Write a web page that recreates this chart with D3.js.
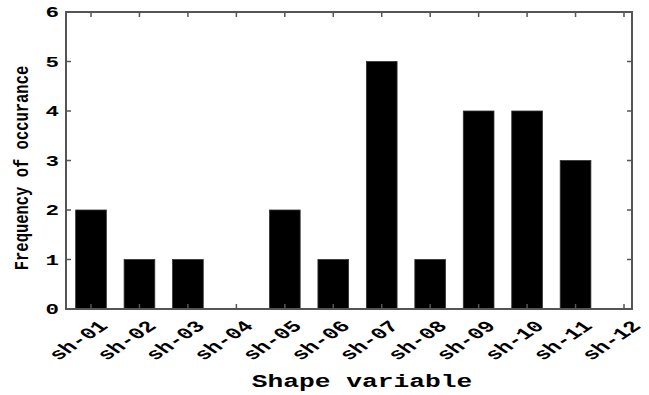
<!DOCTYPE html>
<html>
<head>
<meta charset="utf-8">
<script src="https://cdn.jsdelivr.net/npm/d3@7"></script>
<style>
  body { margin: 0; background: #fff; }
  text { font-family: "Courier New", "Liberation Mono", monospace; font-weight: bold; fill: #000; }
</style>
</head>
<body>
<script>
// chart data
var shapes = ["sh-01", "sh-02", "sh-03", "sh-04", "sh-05", "sh-06",
              "sh-07", "sh-08", "sh-09", "sh-10", "sh-11", "sh-12"];
var counts = [2, 1, 1, 0, 2, 1, 5, 1, 4, 4, 3, 0];
var yTicks = [0, 1, 2, 3, 4, 5, 6];

// set up chart area
var margin = { top: 12, right: 17, bottom: 86, left: 66 };
var width = 649 - margin.left - margin.right;
var height = 395 - margin.top - margin.bottom;
var stretch = 1.5; // text in the picture is widened sideways

var svg = d3.select('body').append('svg')
    .attr('width', 649)
    .attr('height', 395);

var g = svg.append('g')
  .attr('transform', 'translate(' + margin.left + ',' + margin.top + ')');

// scales
var xScale = d3.scalePoint().domain(shapes).range([25, 558]);
var yScale = d3.scaleLinear().domain([0, 6]).range([height, 0]);
var barWidth = 30.7;

// bars
g.selectAll('.bar')
  .data(shapes)
  .enter().append('rect')
    .attr('class', 'bar')
    .attr('x', function(d) { return xScale(d) - barWidth / 2; })
    .attr('y', function(d, i) { return yScale(counts[i]); })
    .attr('width', barWidth)
    .attr('height', function(d, i) { return height - yScale(counts[i]); })
    .attr('fill', '#000')
    .attr('stroke', '#333')
    .attr('stroke-width', 0.8);

// inward ticks on all four sides
var tickColor = '#555';
var tickLen = 5;
g.selectAll('.xtick-b').data(shapes).enter().append('line')
  .attr('x1', function(d) { return xScale(d); }).attr('x2', function(d) { return xScale(d); })
  .attr('y1', height).attr('y2', height - tickLen)
  .attr('stroke', tickColor).attr('stroke-width', 1.5);
g.selectAll('.xtick-t').data(shapes).enter().append('line')
  .attr('x1', function(d) { return xScale(d); }).attr('x2', function(d) { return xScale(d); })
  .attr('y1', 0).attr('y2', tickLen)
  .attr('stroke', tickColor).attr('stroke-width', 1.5);
g.selectAll('.ytick-l').data(yTicks).enter().append('line')
  .attr('x1', 0).attr('x2', tickLen)
  .attr('y1', function(d) { return yScale(d); }).attr('y2', function(d) { return yScale(d); })
  .attr('stroke', tickColor).attr('stroke-width', 1.5);
g.selectAll('.ytick-r').data(yTicks).enter().append('line')
  .attr('x1', width).attr('x2', width - tickLen)
  .attr('y1', function(d) { return yScale(d); }).attr('y2', function(d) { return yScale(d); })
  .attr('stroke', tickColor).attr('stroke-width', 1.5);

// frame
g.append('rect')
  .attr('x', 0).attr('y', 0)
  .attr('width', width).attr('height', height)
  .attr('fill', 'none')
  .attr('stroke', '#555')
  .attr('stroke-width', 2);

// y tick labels
g.selectAll('.ylab').data(yTicks).enter().append('text')
  .attr('transform', function(d) {
    return 'translate(-7,' + yScale(d) + ') scale(' + stretch + ',1)';
  })
  .attr('text-anchor', 'end')
  .attr('dy', '0.35em')
  .style('font-size', '15px')
  .text(function(d) { return d; });

// x tick labels, rotated
g.selectAll('.xlab').data(shapes).enter().append('text')
  .attr('transform', function(d) {
    return 'translate(' + (xScale(d) + 18) + ',' + (height + 18) + ') scale(' + stretch + ',1) rotate(-45)';
  })
  .attr('text-anchor', 'end')
  .style('font-size', '16px')
  .text(function(d) { return d; });

// x label
svg.append('text')
  .attr('transform', 'translate(362,387) scale(' + stretch + ',1)')
  .attr('text-anchor', 'middle')
  .style('font-size', '17.5px')
  .text('Shape variable');

// y label
svg.append('text')
  .attr('transform', 'translate(28,168) scale(1.25,1) rotate(-90)')
  .attr('text-anchor', 'middle')
  .style('font-size', '15.5px')
  .text('Frequency of occurance');
</script>
</body>
</html>
